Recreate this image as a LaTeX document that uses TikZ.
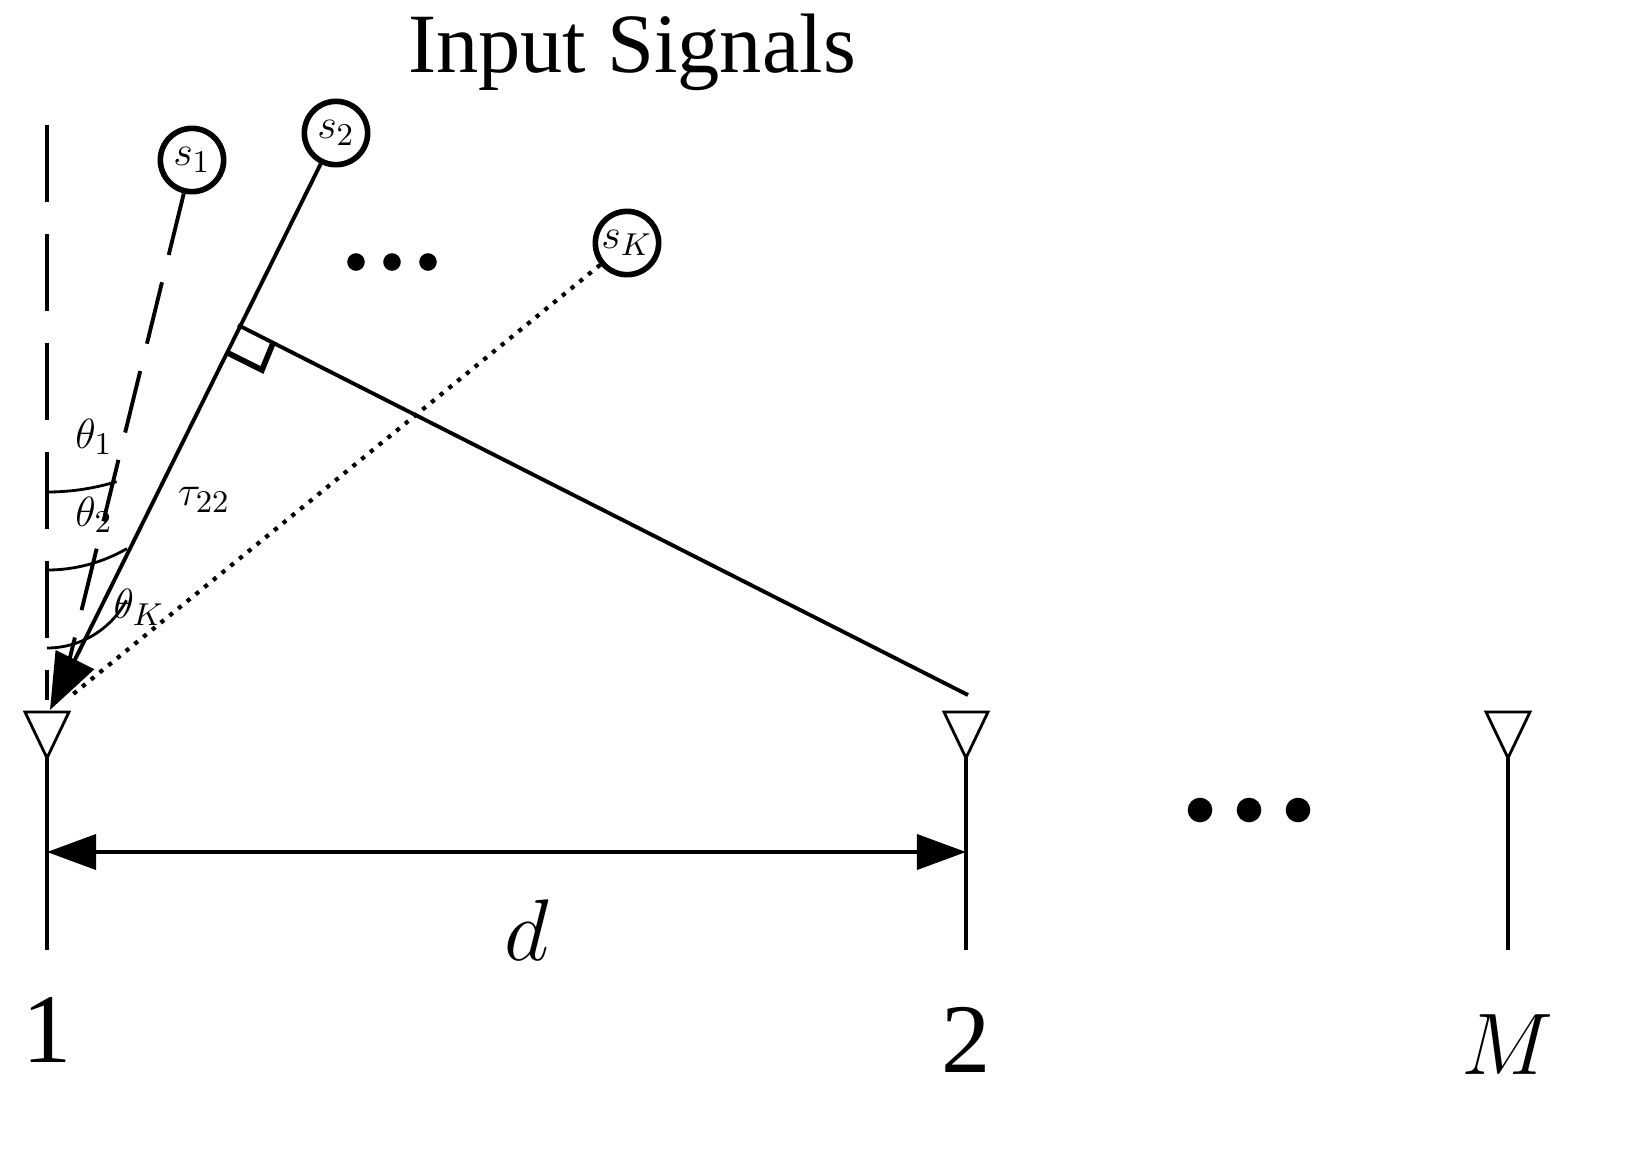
\documentclass[tikz,border=0pt]{standalone}
\usepackage{fontspec}
\setmainfont{Liberation Serif}
\usetikzlibrary{arrows.meta}
\begin{document}
\begin{tikzpicture}[x=0.01cm,y=-0.01cm,line width=1.1pt,
  src/.style={circle,draw,line width=1.6pt,minimum size=18pt,inner sep=0pt,font=\fontsize{13}{14}\selectfont},
  ant/.style={draw,line width=0.8pt},
  big/.style={font=\fontsize{28}{30}\selectfont},
  lab/.style={font=\fontsize{13}{14}\selectfont},
  dot/.style={fill=black,circle,inner sep=0pt,minimum size=#1}]
\useasboundingbox (0,0) rectangle (1632,1150);
\node[font=\fontsize{24}{26}\selectfont] at (632,52) {Input Signals};
% antennas
\foreach \n/\x in {a1/47,a2/966,aM/1508}{
  \coordinate (\n) at (\x,712);
  \draw[ant] (\x-22,712) -- (\x+22,712) -- (\x,758) -- cycle;
  \draw (\x,758) -- (\x,950);
}
\node[big] at (47,1030) {1};
\node[big] at (966,1040) {2};
\node[big] at (1508,1045) {$M$};
\foreach \x in {1200,1249,1298} \node[dot=7pt] at (\x,810) {};
\foreach \x in {356,392,428} \node[dot=5pt] at (\x,262) {};
% baseline
\draw[dash pattern=on 22pt off 9pt,line width=0.9pt] (47,125) -- (47,700);
\node[src] (s1) at (192,160) {$s_1$};
\node[src] (s2) at (336,133) {$s_2$};
\node[src] (sK) at (627,243) {$s_K$};
\coordinate (t1) at (62,690);
\coordinate (t2) at (50,710);
\coordinate (tK) at (72,695);
\draw[dash pattern=on 18pt off 8pt] (s1) -- (t1);
\draw[-{Triangle[length=16pt,width=12pt]}] (s2) -- (t2);
\draw[dotted,line width=1.2pt] (sK) -- (tK);
% perpendicular
\coordinate (foot) at (238,325);
\coordinate (e2) at (968,695);
\draw (foot) -- (e2);
\draw[line width=1.6pt] (226,352) -- (262,370) -- (273,343);
% arcs
\draw[line width=0.8pt] (47,492) arc[start angle=90,end angle=73,radius=238];
\draw[line width=0.8pt] (47,570) arc[start angle=90,end angle=60,radius=160];
\draw[line width=0.8pt] (47,648) arc[start angle=90,end angle=28,radius=90];
\node[lab] at (94,437) {$\theta_1$};
\node[lab] at (94,515) {$\theta_2$};
\node[lab] at (139,607) {$\theta_K$};
\node[lab] at (204,500) {$\tau_{22}$};
% distance
\draw[{Triangle[length=14pt,width=10pt]}-{Triangle[length=14pt,width=10pt]}] (47,852) -- (966,852);
\node[big] at (527,930) {$d$};
\end{tikzpicture}
\end{document}
